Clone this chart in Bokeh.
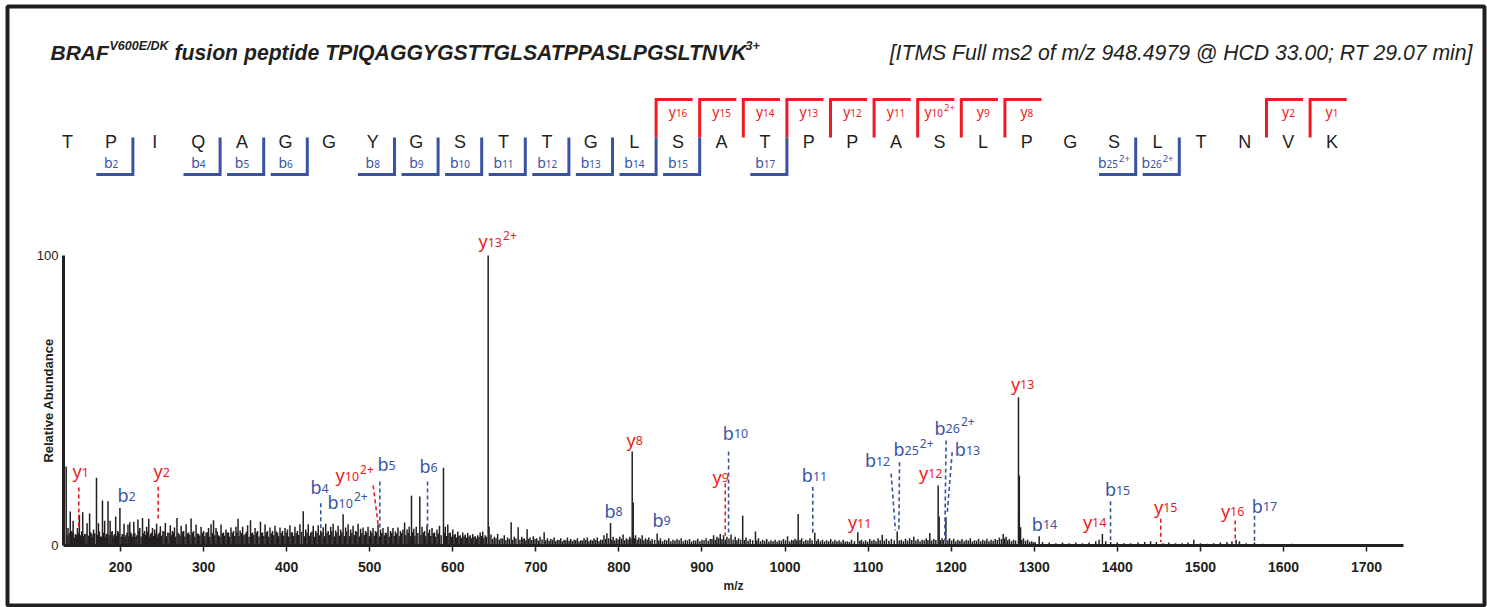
import math
from bokeh.plotting import figure
from bokeh.models import Range1d, LinearAxis, FixedTicker
from bokeh.core.properties import value
from bokeh.embed import file_html
from bokeh.resources import INLINE

# ---------------- data ----------------
title_main = "BRAF"
title_sup = "V600E/DK"
title_rest = "fusion peptide TPIQAGGYGSTTGLSATPPASLPGSLTNVK"
title_charge = "3+"
scan_info = "[ITMS Full ms2 of m/z 948.4979 @ HCD 33.00; RT 29.07 min]"

sequence = list("TPIQAGGYGSTTGLSATPPASLPGSLTNVK")
b_seq_n = [2, 4, 5, 6, 8, 9, 10, 11, 12, 13, 14, 15, 17, 25, 26]
b_seq_charge = ["", "", "", "", "", "", "", "", "", "", "", "", "", "2+", "2+"]
y_seq_n = [16, 15, 14, 13, 12, 11, 10, 9, 8, 2, 1]
y_seq_charge = ["", "", "", "", "", "", "2+", "", "", "", ""]

x_ticks = [200, 300, 400, 500, 600, 700, 800, 900, 1000, 1100, 1200, 1300, 1400, 1500, 1600, 1700]
y_ticks = [0, 100]
mz_axis_start, mz_axis_end = 131.4, 1744.5

# (m/z, relative abundance) - resolved peaks and noise spikes
spectrum_peaks = [
    (134.6, 27.2), (136.8, 6.0), (139.5, 11.7), (141.3, 5.0), (143.0, 8.5), (145.6, 4.0), (148.2, 6.0),
    (150.5, 10.6), (152.2, 3.5), (154.5, 11.5), (157.0, 4.0), (159.8, 7.7), (162.8, 11.0), (165.5, 4.0),
    (167.6, 5.5), (171.1, 23.4), (173.5, 7.7), (175.6, 3.0), (178.3, 15.5), (180.9, 8.5), (183.0, 4.0),
    (185.0, 15.3), (187.5, 8.5), (190.0, 5.0), (192.1, 3.5), (194.2, 10.0), (196.6, 5.0), (199.3, 12.9),
    (202.1, 4.0), (204.3, 7.5), (206.5, 3.5), (209.0, 7.2), (211.2, 8.0), (213.4, 4.0), (216.0, 8.2),
    (218.5, 3.0), (221.0, 9.0), (223.2, 6.0), (226.5, 9.5), (229.0, 5.0), (231.5, 6.5), (234.0, 9.2),
    (236.2, 4.0), (238.5, 6.0), (241.1, 5.5), (243.5, 7.5), (245.6, 4.0), (248.0, 6.6), (251.0, 5.0),
    (254.0, 7.8), (257.0, 4.5), (260.0, 7.0), (262.5, 5.0), (265.0, 6.2), (268.0, 9.5), (270.5, 4.0),
    (273.0, 6.8), (276.0, 5.0), (279.0, 7.3), (282.0, 4.5), (285.0, 9.3), (288.0, 5.0), (291.0, 7.2),
    (294.0, 4.0), (297.0, 6.5), (300.0, 5.0), (303.0, 4.5), (306.0, 6.0), (309.0, 7.3), (312.0, 8.7),
    (315.0, 6.0), (318.0, 3.5), (321.0, 7.2), (324.0, 4.5), (327.0, 5.5), (330.0, 4.5), (333.0, 6.2),
    (336.0, 5.0), (339.0, 6.5), (341.5, 9.2), (344.0, 5.2), (347.0, 6.5), (350.0, 4.0), (353.0, 7.0),
    (356.5, 8.7), (359.0, 4.5), (362.0, 6.0), (365.0, 5.0), (368.5, 8.2), (371.0, 4.5), (374.0, 7.2),
    (377.0, 5.0), (380.0, 6.2), (383.0, 5.0), (386.0, 6.8), (389.0, 4.5), (392.0, 6.2), (395.0, 5.0),
    (398.0, 6.0), (401.0, 5.5), (404.0, 7.0), (407.0, 4.5), (410.0, 6.5), (413.0, 5.0), (416.0, 7.3),
    (420.0, 11.8), (423.0, 5.5), (426.0, 7.3), (429.0, 4.5), (432.0, 6.8), (435.0, 5.0), (438.0, 7.0),
    (441.0, 5.2), (444.0, 6.3), (447.0, 7.5), (450.0, 5.0), (453.0, 6.5), (456.0, 7.5), (459.0, 5.2),
    (462.0, 6.8), (465.0, 5.5), (468.0, 10.8), (471.0, 6.2), (474.0, 7.3), (477.0, 5.5), (480.0, 6.8),
    (483.0, 5.0), (486.0, 7.5), (489.0, 5.8), (492.0, 6.2), (495.0, 5.0), (498.0, 6.5), (501.0, 5.2),
    (504.0, 6.0), (507.0, 5.0), (510.0, 7.2), (513.0, 5.5), (516.0, 6.0), (519.0, 4.5), (522.0, 6.5),
    (525.0, 5.0), (528.0, 6.0), (531.0, 4.8), (534.0, 6.2), (537.0, 5.0), (540.0, 5.5), (542.0, 7.9),
    (545.0, 5.5), (547.5, 6.5), (550.3, 17.2), (553.0, 5.8), (556.0, 6.5), (560.3, 16.9), (563.0, 6.5),
    (566.0, 5.0), (569.0, 7.0), (572.0, 5.5), (575.0, 6.0), (578.0, 4.5), (581.0, 5.5), (584.0, 6.8),
    (588.8, 26.8), (591.0, 6.5), (594.0, 7.2), (597.0, 4.5), (600.0, 5.5), (603.0, 4.0), (606.0, 4.8),
    (609.0, 3.5), (612.0, 4.5), (615.0, 3.8), (618.0, 4.3), (621.0, 3.5), (624.0, 4.0), (627.0, 3.2),
    (630.0, 3.5), (633.0, 4.5), (636.0, 4.8), (639.0, 3.5), (642.6, 100.0), (643.7, 6.5), (646.0, 3.8),
    (650.0, 3.0), (654.0, 4.0), (658.0, 2.5), (662.0, 3.5), (666.0, 2.8), (670.3, 8.0), (674.0, 3.0),
    (678.7, 6.3), (683.0, 3.0), (686.0, 2.5), (689.5, 5.6), (693.0, 2.8), (697.0, 3.2), (701.0, 2.5),
    (705.0, 3.0), (710.0, 4.6), (714.0, 2.5), (718.0, 2.2), (722.0, 2.8), (726.0, 2.0), (730.0, 2.5),
    (734.0, 2.0), (738.0, 2.8), (742.0, 2.2), (746.0, 2.0), (750.0, 2.5), (754.0, 1.8), (758.0, 2.5),
    (762.0, 2.8), (766.0, 2.0), (770.0, 2.5), (774.0, 2.8), (778.0, 2.0), (782.0, 3.5), (785.5, 4.2),
    (789.9, 7.8), (793.0, 3.0), (797.0, 2.5), (801.0, 3.0), (805.0, 3.8), (809.0, 2.5), (813.0, 3.0),
    (816.0, 32.4), (817.2, 14.8), (820.0, 3.5), (824.0, 2.8), (828.0, 3.5), (832.0, 2.5), (836.0, 2.8),
    (840.0, 2.2), (846.0, 4.1), (850.0, 2.5), (855.0, 2.0), (860.0, 2.5), (865.0, 2.0), (870.0, 2.2),
    (875.0, 2.5), (880.0, 2.0), (885.0, 2.2), (890.0, 1.8), (895.0, 2.3), (900.0, 2.0), (905.0, 2.5),
    (910.0, 2.2), (914.0, 3.5), (918.0, 3.0), (922.0, 4.0), (926.0, 3.5), (930.0, 3.0), (935.0, 3.8),
    (940.0, 3.0), (944.0, 2.5), (949.0, 10.3), (953.0, 2.8), (958.0, 2.2), (964.4, 4.8), (968.0, 2.5),
    (973.0, 2.0), (978.0, 2.2), (983.0, 1.8), (988.0, 2.0), (993.0, 1.8), (998.0, 2.2), (1003.0, 3.2),
    (1008.0, 2.0), (1012.0, 2.3), (1015.8, 10.9), (1020.0, 2.5), (1025.0, 2.0), (1030.0, 2.5),
    (1035.8, 4.4), (1040.0, 2.2), (1045.0, 2.0), (1050.0, 1.8), (1055.0, 2.2), (1060.0, 2.0),
    (1065.0, 1.8), (1070.0, 2.0), (1075.0, 1.5), (1080.0, 2.0), (1087.6, 4.6), (1092.0, 2.0),
    (1097.0, 1.8), (1102.0, 2.2), (1107.0, 2.0), (1112.0, 2.5), (1117.0, 3.7), (1122.0, 2.3),
    (1128.0, 2.2), (1135.0, 4.8), (1140.0, 2.0), (1145.0, 2.3), (1150.0, 2.5), (1155.0, 3.0),
    (1160.0, 2.2), (1165.0, 2.0), (1170.0, 2.5), (1174.3, 4.3), (1179.0, 2.2), (1184.3, 20.7),
    (1185.5, 10.0), (1189.0, 2.5), (1193.6, 9.8), (1198.0, 2.5), (1203.0, 2.3), (1208.0, 2.0),
    (1213.0, 2.2), (1218.0, 2.0), (1223.0, 2.5), (1228.0, 1.8), (1233.0, 2.2), (1238.0, 2.0),
    (1243.0, 2.3), (1248.0, 2.0), (1253.0, 2.2), (1258.0, 2.8), (1262.6, 4.0), (1266.0, 3.0),
    (1270.0, 2.2), (1275.0, 2.0), (1281.0, 51.1), (1282.0, 24.1), (1283.5, 6.3), (1287.0, 2.5),
    (1292.0, 2.0), (1297.0, 1.5), (1301.0, 1.2), (1305.9, 3.2), (1310.0, 1.2), (1318.0, 1.0),
    (1326.0, 0.8), (1334.0, 1.0), (1342.0, 0.8), (1350.0, 1.0), (1358.0, 0.8), (1366.0, 1.0),
    (1374.0, 1.5), (1378.0, 2.0), (1382.0, 4.0), (1386.0, 1.5), (1392.0, 1.2), (1400.0, 1.0),
    (1408.0, 0.8), (1416.0, 0.8), (1425.0, 1.0), (1433.0, 1.2), (1440.0, 1.5), (1447.0, 1.2),
    (1455.0, 0.8), (1462.0, 1.0), (1470.0, 0.8), (1478.0, 0.8), (1485.0, 1.0), (1492.0, 2.0),
    (1500.0, 0.8), (1508.0, 0.6), (1516.0, 0.8), (1524.0, 1.0), (1532.0, 1.2), (1538.0, 1.5),
    (1543.0, 2.0), (1547.0, 1.5), (1555.0, 0.8), (1565.0, 1.0), (1575.0, 0.6), (1585.0, 0.5),
    (1598.0, 0.5), (1610.0, 0.6), (1622.0, 0.4), (1635.0, 0.5), (1648.0, 0.5), (1660.0, 0.4),
    (1672.0, 0.5), (1685.0, 0.4), (1698.0, 0.5), (1712.0, 0.4), (1728.0, 0.5),
]
# low-level baseline noise between the spikes (m/z, relative abundance)
baseline_peaks = [
    (135.7, 3.5), (138.2, 4.2), (140.4, 3.0), (142.2, 4.5), (144.3, 2.8), (147.0, 3.6), (149.3, 4.4),
    (151.3, 2.6), (153.3, 4.8), (155.8, 3.2), (158.4, 4.0), (161.3, 3.4), (164.2, 4.6), (166.5, 2.9),
    (169.0, 4.2), (172.3, 3.6), (174.6, 4.8), (176.9, 3.1), (179.6, 4.4), (182.0, 3.0), (184.0, 4.1),
    (186.2, 3.5), (188.7, 4.6), (191.0, 2.8), (193.1, 4.0), (195.4, 3.3), (197.9, 4.5), (200.7, 3.0),
    (203.2, 3.8), (205.4, 2.9), (207.7, 4.4), (210.1, 3.2), (212.3, 4.6), (214.7, 3.0), (217.2, 4.3),
    (219.7, 3.5), (222.1, 4.9), (224.8, 3.1), (227.7, 4.2), (230.2, 3.6), (232.7, 4.7), (235.1, 3.0),
    (237.3, 4.4), (239.8, 3.3), (242.3, 4.1), (244.5, 3.0), (246.8, 4.5), (249.5, 3.4), (252.5, 4.8),
    (255.5, 3.2), (258.5, 4.3), (261.2, 3.5), (263.7, 4.6), (266.5, 3.0), (269.2, 4.4), (271.7, 3.3),
    (274.5, 4.7), (277.5, 3.1), (280.5, 4.2), (283.5, 3.6), (286.5, 4.5), (289.5, 3.0), (292.5, 4.1),
    (295.5, 3.4), (298.5, 4.4), (301.5, 3.2), (304.5, 4.6), (307.5, 3.0), (310.5, 4.3), (313.5, 3.5),
    (316.5, 4.8), (319.5, 3.1), (322.5, 4.2), (325.5, 3.4), (328.5, 4.5), (331.5, 3.0), (334.5, 4.4),
    (337.5, 3.3), (340.2, 4.6), (342.7, 3.2), (345.5, 4.3), (348.5, 3.5), (351.5, 4.7), (354.7, 3.0),
    (357.7, 4.2), (360.5, 3.6), (363.5, 4.5), (366.7, 3.1), (369.7, 4.4), (372.5, 3.3), (375.5, 4.6),
    (378.5, 3.0), (381.5, 4.2), (384.5, 3.5), (387.5, 4.8), (390.5, 3.2), (393.5, 4.3), (396.5, 3.4),
    (399.5, 4.5), (402.5, 3.1), (405.5, 4.6), (408.5, 3.3), (411.5, 4.2), (414.5, 3.6), (418.0, 4.7),
    (421.5, 3.2), (424.5, 4.4), (427.5, 3.4), (430.5, 4.8), (433.5, 3.0), (436.5, 4.3), (439.5, 3.5),
    (442.5, 4.6), (445.5, 3.2), (448.5, 4.4), (451.5, 3.6), (454.5, 4.9), (457.5, 3.1), (460.5, 4.5),
    (463.5, 3.4), (466.5, 4.6), (469.5, 3.3), (472.5, 4.8), (475.5, 3.2), (478.5, 4.4), (481.5, 3.5),
    (484.5, 4.7), (487.5, 3.1), (490.5, 4.3), (493.5, 3.6), (496.5, 4.5), (499.5, 3.2), (502.5, 4.4),
    (505.5, 3.4), (508.5, 4.6), (511.5, 3.1), (514.5, 4.3), (517.5, 3.5), (520.5, 4.2), (523.5, 3.0),
    (526.5, 4.4), (529.5, 3.3), (532.5, 4.1), (535.5, 3.2), (538.5, 4.3), (543.5, 3.5), (546.3, 4.4),
    (549.0, 3.2), (551.7, 4.6), (554.5, 3.4), (558.0, 4.3), (561.7, 3.6), (564.5, 4.5), (567.5, 3.2),
    (570.5, 4.4), (573.5, 3.3), (576.5, 4.2), (579.5, 3.0), (582.5, 4.1), (586.0, 3.5), (590.0, 4.4),
    (592.5, 3.3), (595.5, 4.2), (598.5, 3.0), (601.5, 3.6), (604.5, 2.8), (607.5, 3.4), (610.5, 2.6),
    (613.5, 3.2), (616.5, 2.7), (619.5, 3.1), (622.5, 2.5), (625.5, 3.0), (628.5, 2.4), (631.5, 2.9),
    (634.5, 3.3), (637.5, 2.6), (640.5, 3.0),
    (648.0, 2.2), (652.0, 2.5), (656.0, 2.0), (660.0, 2.4), (664.0, 1.9), (668.0, 2.3), (672.0, 2.0),
    (676.0, 2.4), (680.8, 2.0), (684.5, 2.2), (688.0, 1.8), (691.2, 2.3), (695.0, 1.9), (699.0, 2.2),
    (703.0, 1.7), (707.5, 2.1), (712.0, 1.8), (716.0, 1.6), (720.0, 2.0), (724.0, 1.5), (728.0, 1.9),
    (732.0, 1.5), (736.0, 1.8), (740.0, 1.6), (744.0, 1.5), (748.0, 1.8), (752.0, 1.4), (756.0, 1.7),
    (760.0, 1.9), (764.0, 1.5), (768.0, 1.7), (772.0, 1.9), (776.0, 1.5), (780.0, 2.0), (784.0, 2.2),
    (787.7, 2.5), (791.5, 2.0), (795.0, 1.8), (799.0, 2.1), (803.0, 2.3), (807.0, 1.8), (811.0, 2.1),
    (814.5, 2.4), (818.6, 2.5), (822.0, 2.0), (826.0, 2.3), (830.0, 1.8), (834.0, 2.0), (838.0, 1.6),
    (843.0, 2.0), (848.0, 1.7), (852.5, 1.5), (857.5, 1.8), (862.5, 1.5), (867.5, 1.7), (872.5, 1.8),
    (877.5, 1.5), (882.5, 1.7), (887.5, 1.4), (892.5, 1.7), (897.5, 1.5), (902.5, 1.8), (907.5, 1.6),
    (912.0, 2.2), (916.0, 2.0), (920.0, 2.5), (924.0, 2.2), (928.0, 2.0), (932.5, 2.4), (937.5, 2.0),
    (942.0, 1.8), (946.5, 2.0), (951.0, 1.9), (955.5, 1.6), (961.0, 1.8), (966.0, 1.7), (970.5, 1.5),
    (975.5, 1.6), (980.5, 1.4), (985.5, 1.5), (990.5, 1.4), (995.5, 1.6), (1000.5, 1.8), (1005.5, 1.5),
    (1010.0, 1.7), (1014.0, 1.8), (1018.0, 1.9), (1022.5, 1.5), (1027.5, 1.7), (1032.5, 1.8),
    (1038.0, 1.6), (1042.5, 1.5), (1047.5, 1.4), (1052.5, 1.5), (1057.5, 1.4), (1062.5, 1.5),
    (1067.5, 1.3), (1072.5, 1.4), (1077.5, 1.2), (1083.5, 1.5), (1090.0, 1.6), (1094.5, 1.4),
    (1099.5, 1.3), (1104.5, 1.6), (1109.5, 1.5), (1114.5, 1.8), (1119.5, 1.7), (1125.0, 1.6),
    (1131.5, 1.8), (1137.5, 1.7), (1142.5, 1.5), (1147.5, 1.7), (1152.5, 1.9), (1157.5, 1.7),
    (1162.5, 1.5), (1167.5, 1.8), (1172.0, 1.9), (1176.5, 1.7), (1181.5, 1.9), (1187.0, 1.8),
    (1191.0, 1.9), (1196.0, 1.8), (1200.5, 1.7), (1205.5, 1.5), (1210.5, 1.6), (1215.5, 1.5),
    (1220.5, 1.7), (1225.5, 1.4), (1230.5, 1.6), (1235.5, 1.5), (1240.5, 1.6), (1245.5, 1.5),
    (1250.5, 1.6), (1255.5, 1.9), (1260.5, 2.2), (1264.0, 2.4), (1268.0, 1.8), (1272.5, 1.5),
    (1277.5, 1.7), (1285.0, 1.9), (1289.5, 1.6), (1294.5, 1.3), (1299.0, 1.0),
]
all_peaks = spectrum_peaks + baseline_peaks
peak_mz = [p_[0] for p_ in all_peaks]
peak_int = [p_[1] for p_ in all_peaks]

# annotated ions in the spectrum
ann_letter = ["y", "y", "b", "y", "b", "b", "y", "b", "b", "y", "b", "b",
              "y", "b", "b", "y", "b", "b", "b", "b", "y", "y", "b",
              "y", "b", "y", "y", "b"]
ann_number = ["13", "1", "2", "2", "4", "10", "10", "5", "6", "8", "8", "9",
              "9", "10", "11", "11", "12", "25", "26", "13", "12", "13", "14",
              "14", "15", "15", "16", "17"]
ann_charge = ["2+", "", "", "", "", "2+", "2+", "", "", "", "", "",
              "", "", "", "", "", "2+", "2+", "", "", "", "",
              "", "", "", "", ""]
ann_mz = [653.8, 151.8, 207.2, 249.4, 439.6, 473.3, 481.7, 520.2, 570.8, 818.7, 793.5, 851.3,
          922.3, 940.3, 1035.4, 1089.6, 1111.3, 1154.6, 1204.0, 1219.6, 1175.1, 1285.8, 1312.3,
          1372.5, 1400.2, 1458.0, 1538.6, 1577.1]
ann_int = [104.5, 25.2, 16.9, 25.2, 19.7, 14.5, 23.8, 27.6, 26.9, 36.2, 11.7, 8.6,
           23.4, 38.6, 23.8, 7.6, 29.0, 32.8, 40.3, 32.8, 24.8, 55.5, 7.2,
           7.9, 19.0, 13.1, 11.7, 13.4]

# dashed leader lines (y1, y2, b4, y10 2+, b5, b6, y9, b10, b11, b12, b25 2+, b26 2+, b13, b15, y15, y16, b17)
lead_series = ["y", "y", "b", "y", "b", "b", "y", "b", "b", "b", "b", "b", "b", "b", "y", "y", "b"]
lead_mz_top = [149.8, 245.4, 441.1, 504.2, 512.2, 569.6, 928.0, 932.0, 1033.4, 1127.7, 1137.8,
               1193.9, 1201.2, 1391.8, 1452.3, 1541.9, 1565.1]
lead_int_top = [20.0, 20.3, 14.6, 20.7, 22.1, 22.1, 21.4, 32.4, 20.3, 24.8, 28.7, 36.2, 32.2,
                15.3, 9.2, 8.6, 10.3]
lead_mz_bot = [149.8, 245.4, 441.1, 510.2, 512.2, 569.6, 928.0, 932.0, 1033.4, 1132.9, 1137.0,
               1192.2, 1195.2, 1391.8, 1452.3, 1541.9, 1565.1]
lead_int_bot = [6.2, 9.3, 5.2, 6.9, 5.2, 5.2, 3.4, 3.4, 3.4, 5.2, 5.2, 1.7, 11.0, 1.1, 1.1, 1.1, 1.1]

# ---------------- styling ----------------
RED = "#ed1c24"
BLUE = "#3953a4"
INK = "#231f20"
series_color = {"b": BLUE, "y": RED}
ARIAL_NAME = "Liberation Sans"
ARIAL = value(ARIAL_NAME)
LABELF = value("Noto Sans")


def label_offsets(letters, numbers, charges, fs_letter, fs_num, fs_chg):
    """Screen offsets so that letter+subscript+superscript is centred on its anchor."""
    adv = {"b": 0.623, "y": 0.530}
    join, chg = [], []
    for l, n, c in zip(letters, numbers, charges):
        wl = adv[l] * fs_letter
        wn = 0.572 * fs_num * len(n)
        wc = (0.572 * fs_chg * len(c) + 1) if c else 0
        j = wl - (wl + wn + wc) / 2
        join.append(j)
        chg.append(j + wn + 1)
    return join, chg


W, H = 1487, 607
p = figure(width=W, height=H, output_backend="svg", toolbar_location=None,
           x_range=Range1d(63.97, 1842.0), y_range=Range1d(-20.69, 185.86),
           x_axis_type=None, y_axis_type=None,
           min_border_left=7, min_border_right=3, min_border_top=6, min_border_bottom=2)
p.extra_x_ranges = {"seq": Range1d(-1.3761, 32.500), "px": Range1d(7, 1484)}
p.extra_y_ranges = {"py": Range1d(605, 6)}
p.outline_line_color = INK
p.outline_line_width = 4
p.background_fill_color = "white"
p.border_fill_color = "white"

# spectrum sticks
p.segment(x0=peak_mz, y0=[0] * len(peak_mz), x1=peak_mz, y1=peak_int,
          line_color=INK, line_width=1.5)

# leader lines
p.segment(x0=lead_mz_top, y0=lead_int_top, x1=lead_mz_bot, y1=lead_int_bot,
          line_color=[series_color[s] for s in lead_series], line_width=1.6, line_dash="4 3")

# ion labels in spectrum (letter + subscript number + superscript charge)
ann_colors = [series_color[s] for s in ann_letter]
j_off, c_off = label_offsets(ann_letter, ann_number, ann_charge, 18, 12.5, 12)
p.text(x=ann_mz, y=ann_int, text=ann_letter, x_offset=j_off, y_offset=-1,
       text_color=ann_colors, text_font=LABELF, text_font_size="18px",
       text_align="right", text_baseline="alphabetic")
p.text(x=ann_mz, y=ann_int, text=ann_number, x_offset=j_off, y_offset=0,
       text_color=ann_colors, text_font=LABELF, text_font_size="12.5px",
       text_align="left", text_baseline="alphabetic")
p.text(x=ann_mz, y=ann_int, text=ann_charge, x_offset=c_off, y_offset=-7,
       text_color=ann_colors, text_font=LABELF, text_font_size="12px",
       text_align="left", text_baseline="alphabetic")

# axes
xaxis = LinearAxis(fixed_location=0, bounds=(mz_axis_start, mz_axis_end),
                   ticker=FixedTicker(ticks=x_ticks), axis_label="m/z")
xaxis.axis_line_width = 3
xaxis.axis_line_color = INK
xaxis.major_tick_line_width = 1.5
xaxis.major_tick_line_color = INK
xaxis.major_tick_out = 6
xaxis.major_tick_in = 0
xaxis.minor_tick_line_color = None
xaxis.major_label_text_font = ARIAL_NAME
xaxis.major_label_text_font_style = "bold"
xaxis.major_label_text_font_size = "14px"
xaxis.major_label_text_color = INK
xaxis.major_label_standoff = 11
xaxis.axis_label_text_font = ARIAL_NAME
xaxis.axis_label_text_font_style = "bold"
xaxis.axis_label_text_font_size = "12px"
xaxis.axis_label_text_color = INK
xaxis.axis_label_standoff = 3
p.add_layout(xaxis, "below")

yaxis = LinearAxis(fixed_location=mz_axis_start, bounds=(0, 100),
                   ticker=FixedTicker(ticks=y_ticks), axis_label="Relative Abundance")
yaxis.axis_line_width = 3
yaxis.axis_line_color = INK
yaxis.major_tick_out = 0
yaxis.major_tick_in = 0
yaxis.minor_tick_line_color = None
yaxis.major_label_text_font = ARIAL_NAME
yaxis.major_label_text_font_size = "13px"
yaxis.major_label_text_color = INK
yaxis.major_label_standoff = 5
yaxis.axis_label_text_font = ARIAL_NAME
yaxis.axis_label_text_font_style = "bold"
yaxis.axis_label_text_font_size = "13px"
yaxis.axis_label_text_color = INK
yaxis.axis_label_standoff = -22
p.add_layout(yaxis, "left")

# ---------------- sequence map ----------------
seq_idx = list(range(len(sequence)))
p.text(x=seq_idx, y=[141] * len(sequence), text=sequence, x_range_name="seq", y_range_name="py",
       text_font=ARIAL, text_font_size="18px", text_color=INK,
       text_align="center", text_baseline="middle")

L = len(sequence)

b_xs = [[n - 1.34, n - 0.5, n - 0.5] for n in b_seq_n]
b_ys = [[174, 174, 137] for n in b_seq_n]
p.multi_line(xs=b_xs, ys=b_ys, x_range_name="seq", y_range_name="py",
             line_color=BLUE, line_width=3, line_join="miter")
b_letters = ["b"] * len(b_seq_n)
b_nums = [str(n) for n in b_seq_n]
bj, bc = label_offsets(b_letters, b_nums, b_seq_charge, 14, 10, 9.5)
b_lx = [n - 1 for n in b_seq_n]
b_ly = [162] * len(b_seq_n)
p.text(x=b_lx, y=b_ly, text=b_letters, x_offset=bj, y_offset=0, x_range_name="seq", y_range_name="py",
       text_font=LABELF, text_font_size="14px", text_color=BLUE, text_align="right",
       text_baseline="alphabetic")
p.text(x=b_lx, y=b_ly, text=b_nums, x_offset=bj, y_offset=1, x_range_name="seq", y_range_name="py",
       text_font=LABELF, text_font_size="10px", text_color=BLUE, text_align="left",
       text_baseline="alphabetic")
p.text(x=b_lx, y=b_ly, text=b_seq_charge, x_offset=bc, y_offset=-4, x_range_name="seq",
       y_range_name="py", text_font=LABELF, text_font_size="9.5px", text_color=BLUE,
       text_align="left", text_baseline="alphabetic")

y_xs = [[L - n - 0.5, L - n - 0.5, L - n + 0.34] for n in y_seq_n]
y_ys = [[137, 99, 99] for n in y_seq_n]
p.multi_line(xs=y_xs, ys=y_ys, x_range_name="seq", y_range_name="py",
             line_color=RED, line_width=3, line_join="miter")
y_letters = ["y"] * len(y_seq_n)
y_nums = [str(n) for n in y_seq_n]
yj, yc = label_offsets(y_letters, y_nums, y_seq_charge, 14, 10, 9.5)
y_lx = [L - n for n in y_seq_n]
y_ly = [111] * len(y_seq_n)
p.text(x=y_lx, y=y_ly, text=y_letters, x_offset=yj, y_offset=0, x_range_name="seq", y_range_name="py",
       text_font=LABELF, text_font_size="14px", text_color=RED, text_align="right",
       text_baseline="alphabetic")
p.text(x=y_lx, y=y_ly, text=y_nums, x_offset=yj, y_offset=1, x_range_name="seq", y_range_name="py",
       text_font=LABELF, text_font_size="10px", text_color=RED, text_align="left",
       text_baseline="alphabetic")
p.text(x=y_lx, y=y_ly, text=y_seq_charge, x_offset=yc, y_offset=-4, x_range_name="seq",
       y_range_name="py", text_font=LABELF, text_font_size="9.5px", text_color=RED,
       text_align="left", text_baseline="alphabetic")

# ---------------- titles ----------------
p.text(x=[50], y=[52], text=[title_main], x_range_name="px", y_range_name="py",
       text_font=ARIAL, text_font_style="bold italic", text_font_size="21px",
       text_color=INK, text_baseline="alphabetic")
p.text(x=[109], y=[45], text=[title_sup], x_range_name="px", y_range_name="py",
       text_font=ARIAL, text_font_style="bold italic", text_font_size="12.5px",
       text_color=INK, text_baseline="alphabetic")
p.text(x=[174], y=[52], text=[title_rest], x_range_name="px", y_range_name="py",
       text_font=ARIAL, text_font_style="bold italic", text_font_size="21.2px",
       text_color=INK, text_baseline="alphabetic")
p.text(x=[745], y=[45], text=[title_charge], x_range_name="px", y_range_name="py",
       text_font=ARIAL, text_font_style="bold italic", text_font_size="12.5px",
       text_color=INK, text_baseline="alphabetic")
p.text(x=[1472], y=[52], text=[scan_info], x_range_name="px", y_range_name="py",
       text_font=ARIAL, text_font_style="italic", text_font_size="21.2px",
       text_color=INK, text_align="right", text_baseline="alphabetic")

open("out.html", "w").write(file_html(p, INLINE))
